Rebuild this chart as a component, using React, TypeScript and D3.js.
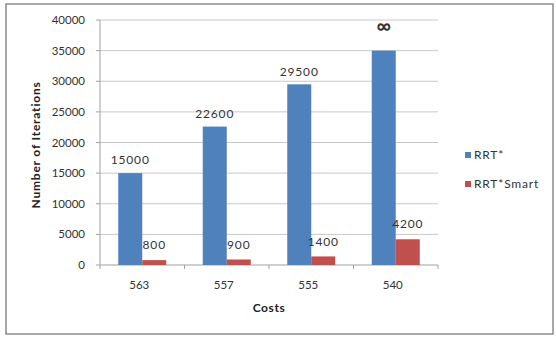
import React from "react";
import * as d3 from "d3";

const categories = ["563", "557", "555", "540"];
const rrtStar = [15000, 22600, 29500, 35000];
const rrtStarLabels = ["15000", "22600", "29500", "∞"];
const rrtSmart = [800, 900, 1400, 4200];
const rrtSmartLabels = ["800", "900", "1400", "4200"];
const seriesNames = ["RRT*", "RRT*Smart"];
const yTicks = [0, 5000, 10000, 15000, 20000, 25000, 30000, 35000, 40000];

const W = 556;
const H = 338;
const plot = { left: 100, right: 438, top: 20, bottom: 265 };
const colors = ["#4F81BD", "#C0504D"];
const font = "Lato, 'Open Sans', sans-serif";

export default function App() {
  const x = d3
    .scaleBand<string>()
    .domain(categories)
    .range([plot.left, plot.right])
    .paddingInner(0)
    .paddingOuter(0);
  const y = d3.scaleLinear().domain([0, 40000]).range([plot.bottom, plot.top]);
  const barW = 24;
  const groupOffset = (x.bandwidth() - barW * 2) / 2;

  const series = [
    { values: rrtStar, labels: rrtStarLabels },
    { values: rrtSmart, labels: rrtSmartLabels },
  ];

  return (
    <svg
      width={W}
      height={H}
      style={{ position: "absolute", left: 0, top: 0, background: "#fff" }}
    >
      <rect x={6} y={4} width={547} height={330} fill="#fff" stroke="#8a8a8a" strokeWidth={1.5} />
      {/* grid lines */}
      {yTicks.map((t) => (
        <line
          key={"g" + t}
          x1={plot.left}
          x2={plot.right}
          y1={y(t)}
          y2={y(t)}
          stroke={t === 0 ? "#a0a0a0" : "#c8c8c8"}
          strokeWidth={1}
        />
      ))}
      {/* y axis */}
      <line x1={plot.left} x2={plot.left} y1={plot.top} y2={plot.bottom} stroke="#a0a0a0" />
      {yTicks.map((t) => (
        <g key={"yt" + t}>
          <line x1={plot.left - 4} x2={plot.left} y1={y(t)} y2={y(t)} stroke="#a0a0a0" />
          <text
            x={85}
            y={y(t)}
            dy="0.35em"
            textAnchor="end"
            fontSize={11.5}
            fontFamily={font}
            fill="#333"
          >
            {t}
          </text>
        </g>
      ))}
      {/* x axis ticks */}
      {categories.concat(["end"]).map((c, i) => {
        const xx = plot.left + i * x.bandwidth();
        return (
          <line key={"xt" + i} x1={xx} x2={xx} y1={plot.bottom} y2={plot.bottom + 4} stroke="#a0a0a0" />
        );
      })}
      {categories.map((c) => (
        <text
          key={"xl" + c}
          x={(x(c) as number) + x.bandwidth() / 2 - 3}
          y={285}
          dy="0.35em"
          textAnchor="middle"
          fontSize={11.5}
          fontFamily={font}
          fill="#333"
        >
          {c}
        </text>
      ))}
      {/* bars */}
      {series.map((s, si) =>
        categories.map((c, ci) => {
          const bx = (x(c) as number) + groupOffset + si * barW;
          const v = s.values[ci];
          return (
            <rect
              key={"b" + si + ci}
              x={bx}
              y={y(v)}
              width={barW}
              height={plot.bottom - y(v)}
              fill={colors[si]}
            />
          );
        })
      )}
      {/* value labels */}
      {series.map((s, si) =>
        categories.map((c, ci) => {
          const bx = (x(c) as number) + groupOffset + si * barW + barW / 2;
          const v = s.values[ci];
          const isInf = s.labels[ci] === "∞";
          return (
            <text
              key={"l" + si + ci}
              x={bx}
              y={y(v) - (isInf ? 25 : si === 0 ? 13 : 15)}
              dy="0.35em"
              textAnchor="middle"
              fontSize={isInf ? 20 : 12}
              letterSpacing={isInf ? 0 : 0.8}
              fontWeight={isInf ? "bold" : "normal"}
              fontFamily={font}
              fill="#333"
            >
              {s.labels[ci]}
            </text>
          );
        })
      )}
      {/* axis titles */}
      <text x={269} y={308} dy="0.35em" textAnchor="middle" fontSize={12} letterSpacing={0.6} fontWeight="bold" fontFamily={font} fill="#222">
        Costs
      </text>
      <text
        transform={`translate(36,145) rotate(-90)`}
        dy="0.35em"
        textAnchor="middle"
        fontSize={12}
        letterSpacing={0.8}
        fontWeight="bold"
        fontFamily={font}
        fill="#222"
      >
        Number of Iterations
      </text>
      {/* legend */}
      {seriesNames.map((n, i) => (
        <g key={"lg" + i} transform={`translate(465,${155 + i * 29})`}>
          <rect x={0} y={-3} width={6} height={6} fill={colors[i]} />
          <text x={9} y={0} dy="0.35em" fontSize={12} letterSpacing={0.8} fontFamily={font} fill="#333">
            {n}
          </text>
        </g>
      ))}
    </svg>
  );
}
